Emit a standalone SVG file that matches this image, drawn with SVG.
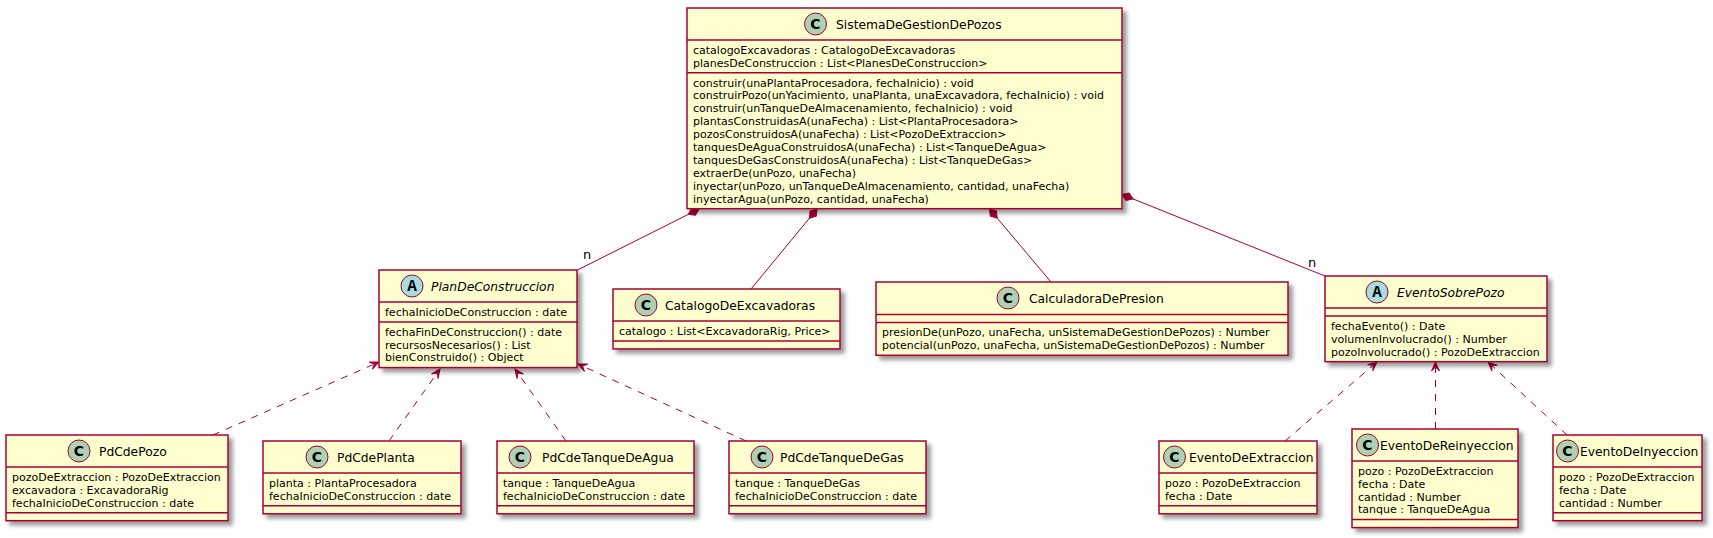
<svg xmlns="http://www.w3.org/2000/svg" width="1713" height="538" viewBox="0 0 1713 538">
<style>
.box{fill:#FEFECE;stroke:#A80036;stroke-width:1.5;filter:url(#sh)}
.sep{stroke:#A80036;stroke-width:1.5}
.cc{fill:#ADD1B2;stroke:#A80036;stroke-width:1}
.ca{fill:#A9DCDF;stroke:#A80036;stroke-width:1}
.lc{font-family:"DejaVu Sans",sans-serif;font-weight:bold;font-size:14px;text-anchor:middle;fill:#000}
.la{font-family:"Liberation Mono","DejaVu Sans Mono",monospace;font-weight:bold;font-size:16px;text-anchor:middle;fill:#000}
.h{font-family:"DejaVu Sans",sans-serif;font-size:12.3px;fill:#000}
.hi{font-style:italic}
.t{font-family:"DejaVu Sans",sans-serif;font-size:11px;fill:#000}
.lbl{font-family:"DejaVu Sans",sans-serif;font-size:13px;fill:#000}
.edge{stroke:#A80036;stroke-width:1;fill:none}
.dash{stroke-dasharray:7,7}
.comp{marker-start:url(#dia)}
.dep{marker-end:url(#arr)}
</style>
<defs>
<filter id="sh" x="-1" y="-1" width="300%" height="300%">
<feGaussianBlur result="b1" stdDeviation="2"/>
<feColorMatrix type="matrix" in="b1" result="b2" values="0 0 0 0 0 0 0 0 0 0 0 0 0 0 0 0 0 0 .4 0"/>
<feOffset dx="4" dy="4" in="b2" result="b3"/>
<feBlend in="SourceGraphic" in2="b3" mode="normal"/>
</filter>
<marker id="dia" markerUnits="userSpaceOnUse" orient="auto" overflow="visible" markerWidth="1" markerHeight="1" refX="0" refY="0">
<path d="M0,0 L6,-4 L12,0 L6,4 Z" fill="#A80036" stroke="#A80036" stroke-width="1"/>
</marker>
<marker id="arr" markerUnits="userSpaceOnUse" orient="auto" overflow="visible" markerWidth="1" markerHeight="1" refX="0" refY="0">
<path d="M0,0 L-9,-4 L-5,0 L-9,4 Z" fill="#A80036" stroke="#A80036" stroke-width="1"/>
</marker>
</defs>
<rect width="1713" height="538" fill="#FFFFFF"/>

<g id="connectors">
<path class="edge comp" d="M699,209 L577.5,270"/>
<path class="edge comp" d="M817,209 L751,289"/>
<path class="edge comp" d="M989.5,209 L1051,282"/>
<path class="edge comp" d="M1122,194.5 L1325,276"/>
<text class="lbl" x="583" y="259">n</text>
<text class="lbl" x="1308" y="267">n</text>
<path class="edge dash dep" d="M213,435 L379,362"/>
<path class="edge dash dep" d="M389,441 L440,369"/>
<path class="edge dash dep" d="M566,441 L515,369"/>
<path class="edge dash dep" d="M746,441 L578,364"/>
<path class="edge dash dep" d="M1285,441 L1377,362"/>
<path class="edge dash dep" d="M1435.5,429 L1435.5,362"/>
<path class="edge dash dep" d="M1567,435 L1488,362"/>
</g>

<g id="SistemaDeGestionDePozos">
<rect class="box" x="687" y="8" width="435" height="200.7"/>
<circle class="cc" cx="815.5" cy="24" r="11"/>
<text class="lc" x="815.5" y="29">C</text>
<text class="h" x="836" y="28.5">SistemaDeGestionDePozos</text>
<line class="sep" x1="687" y1="40" x2="1122" y2="40"/>
<line class="sep" x1="687" y1="72.8" x2="1122" y2="72.8"/>
<text class="t" x="693" y="53.7">catalogoExcavadoras : CatalogoDeExcavadoras</text>
<text class="t" x="693" y="66.6">planesDeConstruccion : List&lt;PlanesDeConstruccion&gt;</text>
<text class="t" x="693" y="86.5">construir(unaPlantaProcesadora, fechaInicio) : void</text>
<text class="t" x="693" y="99.4">construirPozo(unYacimiento, unaPlanta, unaExcavadora, fechaInicio) : void</text>
<text class="t" x="693" y="112.3">construir(unTanqueDeAlmacenamiento, fechaInicio) : void</text>
<text class="t" x="693" y="125.2">plantasConstruidasA(unaFecha) : List&lt;PlantaProcesadora&gt;</text>
<text class="t" x="693" y="138.1">pozosConstruidosA(unaFecha) : List&lt;PozoDeExtraccion&gt;</text>
<text class="t" x="693" y="150.9">tanquesDeAguaConstruidosA(unaFecha) : List&lt;TanqueDeAgua&gt;</text>
<text class="t" x="693" y="163.8">tanquesDeGasConstruidosA(unaFecha) : List&lt;TanqueDeGas&gt;</text>
<text class="t" x="693" y="176.7">extraerDe(unPozo, unaFecha)</text>
<text class="t" x="693" y="189.6">inyectar(unPozo, unTanqueDeAlmacenamiento, cantidad, unaFecha)</text>
<text class="t" x="693" y="202.5">inyectarAgua(unPozo, cantidad, unaFecha)</text>
</g>

<g id="PlanDeConstruccion">
<rect class="box" x="379" y="270" width="198" height="97.6"/>
<circle class="ca" cx="412" cy="286" r="11"/>
<text class="la" x="412" y="290.5">A</text>
<text class="h hi" x="431" y="290.5">PlanDeConstruccion</text>
<line class="sep" x1="379" y1="302" x2="577" y2="302"/>
<line class="sep" x1="379" y1="321.9" x2="577" y2="321.9"/>
<text class="t" x="385" y="315.7">fechaInicioDeConstruccion : date</text>
<text class="t" x="385" y="335.6">fechaFinDeConstruccion() : date</text>
<text class="t" x="385" y="348.5">recursosNecesarios() : List</text>
<text class="t" x="385" y="361.4">bienConstruido() : Object</text>
</g>

<g id="CatalogoDeExcavadoras">
<rect class="box" x="613" y="289" width="227" height="59.9"/>
<circle class="cc" cx="646" cy="305" r="11"/>
<text class="lc" x="646" y="310">C</text>
<text class="h" x="665" y="309.5">CatalogoDeExcavadoras</text>
<line class="sep" x1="613" y1="321" x2="840" y2="321"/>
<line class="sep" x1="613" y1="340.9" x2="840" y2="340.9"/>
<text class="t" x="619" y="334.7">catalogo : List&lt;ExcavadoraRig, Price&gt;</text>
</g>

<g id="CalculadoraDePresion">
<rect class="box" x="876" y="282" width="412" height="73.3"/>
<circle class="cc" cx="1008" cy="298" r="11"/>
<text class="lc" x="1008" y="303">C</text>
<text class="h" x="1029" y="302.5">CalculadoraDePresion</text>
<line class="sep" x1="876" y1="314.5" x2="1288" y2="314.5"/>
<line class="sep" x1="876" y1="322.5" x2="1288" y2="322.5"/>
<text class="t" x="882" y="336.2">presionDe(unPozo, unaFecha, unSistemaDeGestionDePozos) : Number</text>
<text class="t" x="882" y="349.1">potencial(unPozo, unaFecha, unSistemaDeGestionDePozos) : Number</text>
</g>

<g id="EventoSobrePozo">
<rect class="box" x="1325" y="276" width="222" height="85.7"/>
<circle class="ca" cx="1377" cy="292" r="11"/>
<text class="la" x="1377" y="296.5">A</text>
<text class="h hi" x="1397" y="296.5">EventoSobrePozo</text>
<line class="sep" x1="1325" y1="308" x2="1547" y2="308"/>
<line class="sep" x1="1325" y1="316" x2="1547" y2="316"/>
<text class="t" x="1331" y="329.7">fechaEvento() : Date</text>
<text class="t" x="1331" y="342.6">volumenInvolucrado() : Number</text>
<text class="t" x="1331" y="355.5">pozoInvolucrado() : PozoDeExtraccion</text>
</g>

<g id="PdCdePozo">
<rect class="box" x="6" y="435" width="222" height="85.7"/>
<circle class="cc" cx="79" cy="451" r="11"/>
<text class="lc" x="79" y="456">C</text>
<text class="h" x="99" y="455.5">PdCdePozo</text>
<line class="sep" x1="6" y1="467" x2="228" y2="467"/>
<line class="sep" x1="6" y1="512.7" x2="228" y2="512.7"/>
<text class="t" x="12" y="480.7">pozoDeExtraccion : PozoDeExtraccion</text>
<text class="t" x="12" y="493.6">excavadora : ExcavadoraRig</text>
<text class="t" x="12" y="506.5">fechaInicioDeConstruccion : date</text>
</g>

<g id="PdCdePlanta">
<rect class="box" x="263" y="441" width="198" height="72.8"/>
<circle class="cc" cx="317" cy="457" r="11"/>
<text class="lc" x="317" y="462">C</text>
<text class="h" x="337" y="461.5">PdCdePlanta</text>
<line class="sep" x1="263" y1="473" x2="461" y2="473"/>
<line class="sep" x1="263" y1="505.8" x2="461" y2="505.8"/>
<text class="t" x="269" y="486.7">planta : PlantaProcesadora</text>
<text class="t" x="269" y="499.6">fechaInicioDeConstruccion : date</text>
</g>

<g id="PdCdeTanqueDeAgua">
<rect class="box" x="497" y="441" width="197" height="72.8"/>
<circle class="cc" cx="520" cy="457" r="11"/>
<text class="lc" x="520" y="462">C</text>
<text class="h" x="542" y="461.5">PdCdeTanqueDeAgua</text>
<line class="sep" x1="497" y1="473" x2="694" y2="473"/>
<line class="sep" x1="497" y1="505.8" x2="694" y2="505.8"/>
<text class="t" x="503" y="486.7">tanque : TanqueDeAgua</text>
<text class="t" x="503" y="499.6">fechaInicioDeConstruccion : date</text>
</g>

<g id="PdCdeTanqueDeGas">
<rect class="box" x="729" y="441" width="197" height="72.8"/>
<circle class="cc" cx="762" cy="457" r="11"/>
<text class="lc" x="762" y="462">C</text>
<text class="h" x="780" y="461.5">PdCdeTanqueDeGas</text>
<line class="sep" x1="729" y1="473" x2="926" y2="473"/>
<line class="sep" x1="729" y1="505.8" x2="926" y2="505.8"/>
<text class="t" x="735" y="486.7">tanque : TanqueDeGas</text>
<text class="t" x="735" y="499.6">fechaInicioDeConstruccion : date</text>
</g>

<g id="EventoDeExtraccion">
<rect class="box" x="1159" y="441" width="158" height="72.8"/>
<circle class="cc" cx="1174.5" cy="457" r="11"/>
<text class="lc" x="1174.5" y="462">C</text>
<text class="h" x="1189" y="461.5">EventoDeExtraccion</text>
<line class="sep" x1="1159" y1="473" x2="1317" y2="473"/>
<line class="sep" x1="1159" y1="505.8" x2="1317" y2="505.8"/>
<text class="t" x="1165" y="486.7">pozo : PozoDeExtraccion</text>
<text class="t" x="1165" y="499.6">fecha : Date</text>
</g>

<g id="EventoDeReinyeccion">
<rect class="box" x="1352" y="429" width="166" height="98.6"/>
<circle class="cc" cx="1367.5" cy="445" r="11"/>
<text class="lc" x="1367.5" y="450">C</text>
<text class="h" x="1380" y="449.5">EventoDeReinyeccion</text>
<line class="sep" x1="1352" y1="461" x2="1518" y2="461"/>
<line class="sep" x1="1352" y1="519.6" x2="1518" y2="519.6"/>
<text class="t" x="1358" y="474.7">pozo : PozoDeExtraccion</text>
<text class="t" x="1358" y="487.6">fecha : Date</text>
<text class="t" x="1358" y="500.5">cantidad : Number</text>
<text class="t" x="1358" y="513.4">tanque : TanqueDeAgua</text>
</g>

<g id="EventoDeInyeccion">
<rect class="box" x="1553" y="435" width="149" height="85.7"/>
<circle class="cc" cx="1567.5" cy="451" r="11"/>
<text class="lc" x="1567.5" y="456">C</text>
<text class="h" x="1580" y="455.5">EventoDeInyeccion</text>
<line class="sep" x1="1553" y1="467" x2="1702" y2="467"/>
<line class="sep" x1="1553" y1="512.7" x2="1702" y2="512.7"/>
<text class="t" x="1559" y="480.7">pozo : PozoDeExtraccion</text>
<text class="t" x="1559" y="493.6">fecha : Date</text>
<text class="t" x="1559" y="506.5">cantidad : Number</text>
</g>
</svg>
